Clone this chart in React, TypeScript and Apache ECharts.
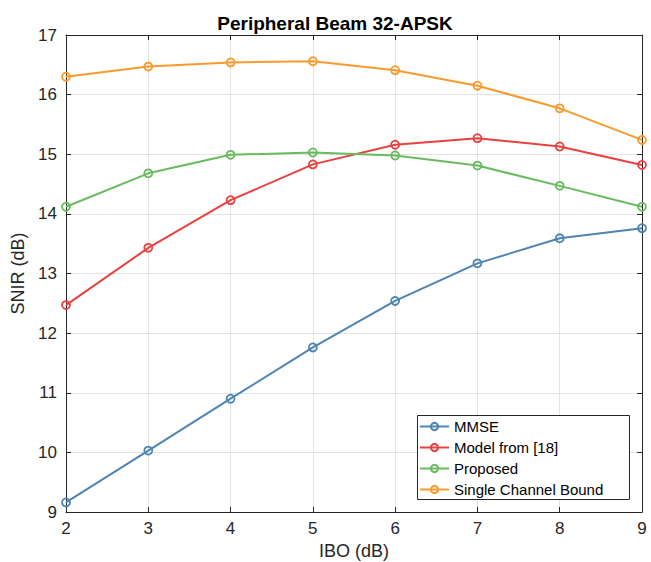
import React, { useEffect, useRef } from "react";
import * as echarts from "echarts";

const ibo = [2, 3, 4, 5, 6, 7, 8, 9];
const mmse = [9.16, 10.03, 10.9, 11.76, 12.54, 13.17, 13.59, 13.76];
const model18 = [12.47, 13.43, 14.23, 14.83, 15.16, 15.27, 15.13, 14.82];
const proposed = [14.12, 14.68, 14.99, 15.03, 14.98, 14.81, 14.47, 14.12];
const bound = [16.3, 16.47, 16.54, 16.56, 16.41, 16.15, 15.77, 15.24];

const seriesNames = ["MMSE", "Model from [18]", "Proposed", "Single Channel Bound"];
const seriesColors = ["#4f84b2", "#e8413f", "#68bb5f", "#f99a2c"];
const seriesValues = [mmse, model18, proposed, bound];

const FONT = "Liberation Sans, Arial, Helvetica, sans-serif";
const AXIS_COLOR = "#262626";

if (typeof document !== "undefined") {
  document.body.style.margin = "0";
}

export default function App() {
  const ref = useRef<HTMLDivElement>(null);

  useEffect(() => {
    document.body.style.margin = "0";
    if (!ref.current) return;
    const chart = echarts.init(ref.current, undefined, { renderer: "svg" });

    const option: any = {
      animation: false,
      backgroundColor: "#ffffff",
      title: {
        text: "Peripheral Beam 32-APSK",
        left: 330,
        top: 9,
        textAlign: "center",
        textStyle: {
          fontFamily: FONT,
          fontWeight: "bold",
          fontSize: 19,
          color: "#000000",
        },
      },
      grid: {
        left: 66,
        right: 9,
        top: 35,
        bottom: 50,
        containLabel: false,
        outerBoundsMode: "none",
      },
      xAxis: [
        {
          type: "value",
          min: 2,
          max: 9,
          interval: 1,
          position: "bottom",
          name: "IBO (dB)",
          nameLocation: "middle",
          nameGap: 30,
          nameTextStyle: { fontFamily: FONT, fontSize: 18, color: AXIS_COLOR },
          axisLine: { show: true, lineStyle: { color: AXIS_COLOR, width: 1 } },
          axisTick: { show: true, inside: true, length: 5, lineStyle: { color: AXIS_COLOR } },
          axisLabel: { fontFamily: FONT, fontSize: 17, color: AXIS_COLOR, margin: 8 },
          splitLine: { show: true, lineStyle: { color: "#e3e3e3", width: 1 } },
        },
        {
          type: "value",
          min: 2,
          max: 9,
          interval: 1,
          position: "top",
          axisLine: { show: true, lineStyle: { color: AXIS_COLOR, width: 1 } },
          axisTick: { show: true, inside: true, length: 5, lineStyle: { color: AXIS_COLOR } },
          axisLabel: { show: false },
          splitLine: { show: false },
        },
      ],
      yAxis: [
        {
          type: "value",
          min: 9,
          max: 17,
          interval: 1,
          position: "left",
          name: "SNIR (dB)",
          nameLocation: "middle",
          nameGap: 30,
          nameTextStyle: { fontFamily: FONT, fontSize: 18, color: AXIS_COLOR },
          axisLine: { show: true, lineStyle: { color: AXIS_COLOR, width: 1 } },
          axisTick: { show: true, inside: true, length: 5, lineStyle: { color: AXIS_COLOR } },
          axisLabel: { fontFamily: FONT, fontSize: 17, color: AXIS_COLOR, margin: 9 },
          splitLine: { show: true, lineStyle: { color: "#e3e3e3", width: 1 } },
        },
        {
          type: "value",
          min: 9,
          max: 17,
          interval: 1,
          position: "right",
          axisLine: { show: true, lineStyle: { color: AXIS_COLOR, width: 1 } },
          axisTick: { show: true, inside: true, length: 5, lineStyle: { color: AXIS_COLOR } },
          axisLabel: { show: false },
          splitLine: { show: false },
        },
      ],
      legend: {
        orient: "vertical",
        left: 419,
        top: 418,
        padding: 0,
        itemWidth: 29,
        itemHeight: 9,
        itemGap: 4,
        z: 20,
        data: seriesNames,
        textStyle: { fontFamily: FONT, fontSize: 15, color: "#000000", lineHeight: 17 },
      },
      graphic: [
        {
          type: "rect",
          z: 15,
          shape: { x: 417.5, y: 415.5, width: 212, height: 84 },
          style: { fill: "#ffffff", stroke: AXIS_COLOR, lineWidth: 1 },
        },
      ],
      series: seriesNames.map((name, i) => ({
        name,
        type: "line",
        xAxisIndex: 0,
        yAxisIndex: 0,
        data: ibo.map((x, j) => [x, seriesValues[i][j]]),
        symbol: "circle",
        symbolSize: 8,
        color: seriesColors[i],
        lineStyle: { width: 2, color: seriesColors[i] },
        itemStyle: { color: "rgba(255,255,255,0)", borderColor: seriesColors[i], borderWidth: 1.8 },
        z: 3 + i,
      })),
    };

    chart.setOption(option);
    return () => chart.dispose();
  }, []);

  return <div ref={ref} style={{ width: 651, height: 562 }} />;
}
